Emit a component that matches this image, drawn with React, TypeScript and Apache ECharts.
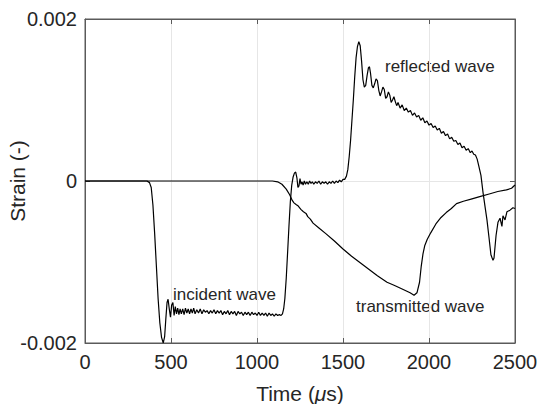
import React, { useEffect, useRef } from "react";
import * as echarts from "echarts";

// Time (µs) / strain pairs
const incidentReflected: [number, number][] = [
  [0, 0], [300, 0], [360, 0], [375, -0.00002], [385, -0.00008], [395, -0.0003], [405, -0.00065],
  [415, -0.00105], [425, -0.00145], [435, -0.00175], [445, -0.00193], [455, -0.002], [463, -0.00192],
  [470, -0.0017], [477, -0.0015], [483, -0.00146], [490, -0.00158], [497, -0.00168], [504, -0.00153],
  [511, -0.0015], [518, -0.00166], [525, -0.00155], [532, -0.00164], [539, -0.00157], [546, -0.00165],
  [553, -0.00158], [560, -0.00164], [568, -0.00158], [576, -0.00165], [584, -0.00157], [592, -0.00163],
  [600, -0.00158], [608, -0.00164], [616, -0.00158], [624, -0.00163], [632, -0.00157], [640, -0.00164],
  [650, -0.00159], [660, -0.00163], [670, -0.00158], [680, -0.00164], [690, -0.00159], [700, -0.00162],
  [710, -0.0016], [720, -0.00164], [730, -0.0016], [740, -0.00163], [750, -0.00159], [760, -0.00164],
  [770, -0.0016], [780, -0.00163], [790, -0.0016], [800, -0.00165], [810, -0.00161], [820, -0.00164],
  [830, -0.0016], [840, -0.00165], [850, -0.00161], [860, -0.00164], [870, -0.00161], [880, -0.00166],
  [890, -0.00161], [900, -0.00164], [910, -0.00162], [920, -0.00166], [930, -0.00162], [940, -0.00165],
  [950, -0.00162], [960, -0.00166], [970, -0.00162], [980, -0.00165], [990, -0.00163], [1000, -0.00166],
  [1010, -0.00162], [1020, -0.00166], [1030, -0.00163], [1040, -0.00166], [1050, -0.00163], [1060, -0.00167],
  [1070, -0.00163], [1080, -0.00166], [1090, -0.00164], [1100, -0.00167], [1110, -0.00164], [1120, -0.00166],
  [1130, -0.00165], [1140, -0.00166], [1148, -0.00164], [1155, -0.00158], [1162, -0.00145], [1170, -0.0012],
  [1178, -0.00088], [1186, -0.00055], [1194, -0.00025], [1202, -0.00005], [1210, 0.00005], [1218, 0.0001],
  [1225, 0.00011], [1232, 0.00004], [1238, -0.00008], [1244, -0.00006], [1250, 0.00003], [1256, -0.00004],
  [1262, -0.00001], [1268, -0.00005], [1275, 0.0], [1282, -0.00004], [1290, -0.00001], [1298, -0.00004],
  [1306, 0.0], [1314, -0.00003], [1322, -0.00001], [1330, -0.00004], [1340, -0.00001], [1350, -0.00003],
  [1360, 0.0], [1370, -0.00004], [1380, -0.00001], [1390, -0.00003], [1400, -0.00001], [1410, -0.00004],
  [1420, -0.00001], [1430, -0.00003], [1440, 0.0], [1450, -0.00003], [1460, 0.0], [1470, -0.00002],
  [1480, 0.00001], [1490, -0.00001], [1500, 0.00002], [1510, 0.00002], [1520, 0.00006], [1528, 0.00014],
  [1536, 0.0003], [1544, 0.0005], [1552, 0.00075], [1560, 0.001], [1568, 0.00128], [1576, 0.00152],
  [1584, 0.00166], [1592, 0.00172], [1600, 0.00167], [1608, 0.00148], [1616, 0.00125], [1624, 0.00116],
  [1632, 0.00118], [1640, 0.0013], [1648, 0.0014], [1654, 0.00141], [1660, 0.00133], [1668, 0.00118],
  [1676, 0.00115], [1684, 0.0012], [1692, 0.00126], [1700, 0.00124], [1708, 0.00112], [1716, 0.00105],
  [1724, 0.0011], [1732, 0.00116], [1740, 0.00113], [1748, 0.00102], [1756, 0.00104], [1764, 0.0011],
  [1772, 0.00106], [1780, 0.00097], [1788, 0.001], [1796, 0.00104], [1804, 0.00098], [1812, 0.00093],
  [1820, 0.00097], [1832, 0.0009], [1844, 0.00094], [1856, 0.00087], [1868, 0.0009], [1880, 0.00085],
  [1892, 0.00087], [1904, 0.00081], [1916, 0.00084], [1928, 0.00079], [1940, 0.00081], [1952, 0.00075],
  [1964, 0.00078], [1976, 0.00072], [1988, 0.00074], [2000, 0.00069], [2012, 0.00071], [2024, 0.00066],
  [2036, 0.00068], [2048, 0.00063], [2060, 0.00065], [2072, 0.00059], [2084, 0.00061], [2096, 0.00056],
  [2108, 0.00058], [2120, 0.00052], [2132, 0.00054], [2144, 0.00049], [2156, 0.0005], [2168, 0.00045],
  [2180, 0.00047], [2192, 0.00041], [2204, 0.00043], [2216, 0.00038], [2228, 0.0004], [2240, 0.00035],
  [2250, 0.00037], [2260, 0.00033], [2270, 0.00032], [2280, 0.00027], [2290, 0.00018], [2302, 0.00007],
  [2314, -0.00014], [2326, -0.00032], [2337, -0.00048], [2349, -0.0007], [2360, -0.00091], [2372, -0.00098],
  [2378, -0.00095], [2390, -0.00067], [2401, -0.00051], [2413, -0.00046], [2424, -0.00056], [2430, -0.00043],
  [2442, -0.00048], [2453, -0.00038], [2471, -0.00036], [2488, -0.00033], [2500, -0.00034],
];

const transmitted: [number, number][] = [
  [0, 0], [1000, 0], [1090, 0], [1120, -0.00001], [1145, -0.00004], [1170, -0.0001], [1190, -0.00017],
  [1205, -0.00024], [1215, -0.00027], [1227, -0.00029], [1240, -0.00031], [1255, -0.00035], [1270, -0.00038],
  [1285, -0.0004], [1295, -0.00044], [1310, -0.00047], [1326, -0.00052], [1360, -0.00058], [1400, -0.00065],
  [1450, -0.00074], [1500, -0.00084], [1550, -0.00093], [1600, -0.00101], [1650, -0.00109], [1700, -0.00117],
  [1756, -0.00125], [1800, -0.00129], [1850, -0.00134], [1890, -0.00138], [1913, -0.00141], [1930, -0.00138],
  [1945, -0.00125], [1955, -0.00105], [1965, -0.0009], [1975, -0.0008], [1990, -0.00072], [2010, -0.00064],
  [2040, -0.00053], [2070, -0.00045], [2100, -0.00039], [2130, -0.00034], [2160, -0.00028], [2200, -0.00025],
  [2250, -0.00022], [2300, -0.00019], [2350, -0.00016], [2400, -0.00013], [2450, -0.00011], [2480, -0.00009],
  [2500, -0.00005],
];

const annotations = ["incident wave", "reflected wave", "transmitted wave"];

export default function App() {
  const ref = useRef<HTMLDivElement>(null);
  useEffect(() => {
    if (!ref.current) return;
    const chart = echarts.init(ref.current, undefined, { renderer: "svg" });
    const font = "'Liberation Sans', Arial, Helvetica, sans-serif";
    const axisColor = "#5a5a5a";
    const textColor = "#262626";
    const sideAxis = {
      type: "value",
      axisLine: { show: true, onZero: false, lineStyle: { color: axisColor, width: 1 } },
      axisTick: { show: true, inside: true, length: 5, lineStyle: { color: axisColor } },
      axisLabel: { show: false },
      splitLine: { show: false },
    };
    chart.setOption({
      animation: false,
      backgroundColor: "#fff",
      grid: {
        left: 85, top: 19, right: 24, bottom: 61,
        outerBoundsMode: "none", containLabel: false,
        show: true, borderColor: axisColor, borderWidth: 1, backgroundColor: "transparent",
      },
      xAxis: [
        {
          type: "value", min: 0, max: 2500, interval: 500,
          name: "Time ({i|μ}s)", nameLocation: "middle", nameGap: 40, nameMoveOverlap: false,
          nameTextStyle: {
            fontFamily: font, fontSize: 21, color: textColor,
            rich: { i: { fontFamily: font, fontSize: 21, fontStyle: "italic", color: textColor } },
          },
          axisLine: { show: true, onZero: false, lineStyle: { color: axisColor, width: 1 } },
          axisTick: { show: true, inside: true, length: 5, lineStyle: { color: axisColor } },
          axisLabel: { fontFamily: font, fontSize: 20, color: textColor, margin: 9, formatter: (v: number) => String(v) },
          splitLine: { show: true, lineStyle: { color: "#e6e6e6", width: 1 } },
        },
        { ...sideAxis, min: 0, max: 2500, interval: 500, position: "top" },
      ],
      yAxis: [
        {
          type: "value", min: -0.002, max: 0.002, interval: 0.002,
          name: "Strain (-)", nameLocation: "middle", nameGap: 57, nameRotate: 90, nameMoveOverlap: false,
          nameTextStyle: { fontFamily: font, fontSize: 21, color: textColor },
          axisLine: { show: true, onZero: false, lineStyle: { color: axisColor, width: 1 } },
          axisTick: { show: true, inside: true, length: 5, lineStyle: { color: axisColor } },
          axisLabel: {
            fontFamily: font, fontSize: 20, color: textColor, margin: 8,
            formatter: (v: number) => (Math.abs(v) < 1e-9 ? "0" : v.toFixed(3)),
          },
          splitLine: { show: true, lineStyle: { color: "#e6e6e6", width: 1 } },
        },
        { ...sideAxis, min: -0.002, max: 0.002, interval: 0.002, position: "right" },
      ],
      series: [
        {
          type: "line", data: incidentReflected, showSymbol: false, symbol: "none",
          lineStyle: { color: "#000", width: 1.2 }, z: 3,
        },
        {
          type: "line", data: transmitted, showSymbol: false, symbol: "none",
          lineStyle: { color: "#000", width: 1.2 }, z: 3,
        },
      ],
      graphic: [
        { type: "text", left: 173, top: 286, style: { text: annotations[0], fontFamily: font, fontSize: 17, fill: textColor } },
        { type: "text", left: 385, top: 58, style: { text: annotations[1], fontFamily: font, fontSize: 17, fill: textColor } },
        { type: "text", left: 356, top: 298, style: { text: annotations[2], fontFamily: font, fontSize: 17, fill: textColor } },
      ],
    });
    return () => chart.dispose();
  }, []);
  return (
    <div
      ref={ref}
      style={{ position: "absolute", left: 0, top: 0, width: 539, height: 404 }}
    />
  );
}
